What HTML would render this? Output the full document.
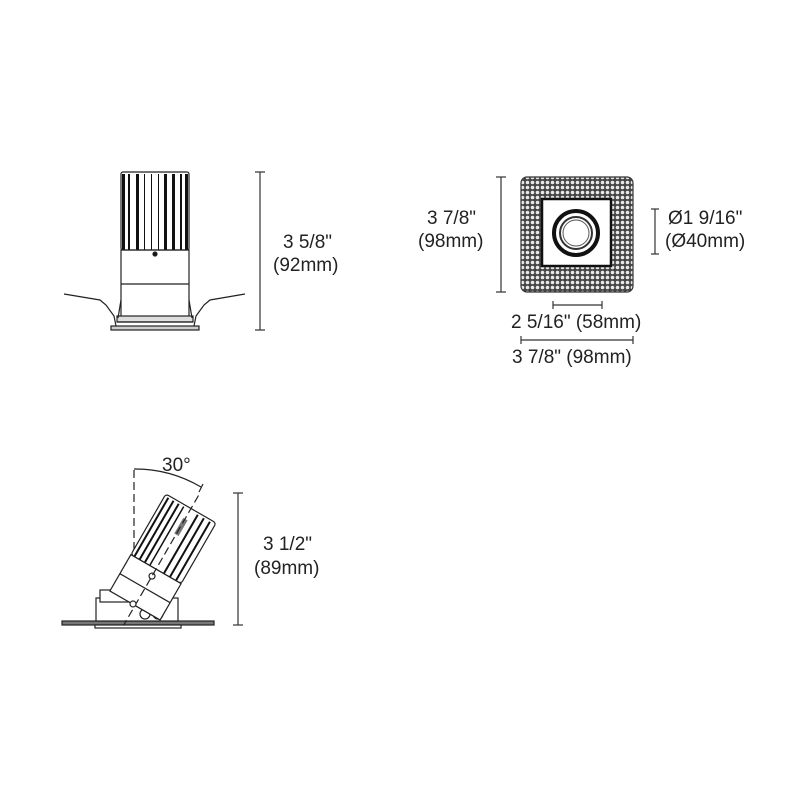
<!DOCTYPE html>
<html><head><style>
body{margin:0;background:#fff}
svg{display:block}
text{font-family:"Liberation Sans",Arial,sans-serif;font-size:19px;fill:#222}
</style></head><body>
<svg width="800" height="800" viewBox="0 0 800 800" xmlns="http://www.w3.org/2000/svg">
<defs>
<pattern id="dots" width="5" height="5" patternUnits="userSpaceOnUse">
<rect width="5" height="5" fill="#444"/><circle cx="2.5" cy="2.5" r="1.8" fill="#e8e8e8"/>
</pattern>
</defs>
<!-- top-left fixture -->
<g stroke="#222" fill="none" stroke-width="1.2">
<rect x="121" y="172" width="68" height="78" rx="2" fill="#fff"/>
<g fill="#111" stroke="none">
<rect x="122" y="174" width="3" height="76"/><rect x="128" y="174" width="2" height="76"/>
<rect x="136" y="174" width="3" height="76"/><rect x="144" y="174" width="1" height="76"/>
<rect x="151" y="174" width="1" height="76"/><rect x="158" y="174" width="1" height="76"/>
<rect x="164" y="174" width="3" height="76"/>
<rect x="172" y="174" width="3" height="76"/><rect x="180" y="174" width="2" height="76"/><rect x="185" y="174" width="3" height="76"/>
</g>
<rect x="121" y="250" width="68" height="70"/>
<line x1="121" y1="284" x2="189" y2="284"/>
<circle cx="155" cy="254" r="2" fill="#111"/>
<rect x="117" y="316" width="76" height="6" fill="#ddd"/>
<rect x="111" y="326" width="88" height="4" fill="#ccc"/>
<line x1="117" y1="322" x2="193" y2="322"/>
<polyline points="64,294 100,300 106,305 114,316 116,326"/>
<polyline points="245,294 210,300 204,305 196,316 194,326"/>
<line x1="121" y1="300" x2="118" y2="318"/><line x1="189" y1="300" x2="192" y2="318"/>
</g>
<g stroke="#333" stroke-width="1.2">
<line x1="260" y1="172" x2="260" y2="330"/><line x1="255" y1="172" x2="265" y2="172"/><line x1="255" y1="330" x2="265" y2="330"/>
</g>
<text x="283" y="248">3 5/8"</text><text x="273" y="271">(92mm)</text>
<!-- top-right -->
<rect x="521" y="177" width="112" height="115" rx="6" fill="url(#dots)" stroke="#333" stroke-width="1.2"/>
<rect x="542" y="199" width="69" height="67" fill="#fff" stroke="#111" stroke-width="2.5"/>
<circle cx="576" cy="233" r="22" fill="#fff" stroke="#111" stroke-width="4"/>
<circle cx="576" cy="233" r="16" fill="#fff" stroke="#333" stroke-width="2"/>
<circle cx="576" cy="233" r="13" fill="#fff" stroke="#555" stroke-width="1"/>
<g stroke="#333" stroke-width="1.2">
<line x1="501" y1="177" x2="501" y2="292"/><line x1="496" y1="177" x2="506" y2="177"/><line x1="496" y1="292" x2="506" y2="292"/>
<line x1="655" y1="209" x2="655" y2="254"/><line x1="651" y1="209" x2="659" y2="209"/><line x1="651" y1="254" x2="659" y2="254"/>
<line x1="553" y1="305" x2="602" y2="305"/><line x1="553" y1="301" x2="553" y2="309"/><line x1="602" y1="301" x2="602" y2="309"/>
<line x1="521" y1="340" x2="633" y2="340"/><line x1="521" y1="336" x2="521" y2="344"/><line x1="633" y1="336" x2="633" y2="344"/>
</g>
<text x="427" y="224">3  7/8"</text><text x="418" y="247">(98mm)</text>
<text x="668" y="224">Ø1 9/16"</text><text x="665" y="247">(Ø40mm)</text>
<text x="511" y="328">2  5/16" (58mm)</text>
<text x="512" y="363">3  7/8" (98mm)</text>
<!-- tilted fixture -->
<g stroke="#222" fill="none" stroke-width="1.2">
<line x1="134" y1="470" x2="134" y2="600" stroke-dasharray="8,4"/>
<path d="M134,469 A130,130 0 0 1 201,487"/>
<line x1="203" y1="484" x2="199" y2="492"/>
<rect x="62" y="621" width="152" height="4" fill="#777"/>
<rect x="95" y="625" width="86" height="3" fill="#fff"/>
<rect x="96" y="598" width="82" height="23" fill="#fff"/>
<rect x="100" y="590" width="30" height="12" fill="#fff"/>
<circle cx="145" cy="614" r="5" fill="#fff"/><circle cx="158" cy="614" r="5" fill="#fff"/>
<g transform="translate(191,508.5) rotate(30)">
<rect x="-29" y="0" width="58" height="70" rx="3" fill="#fff"/>
<g fill="#111" stroke="none">
<rect x="-26" y="2" width="2" height="68"/><rect x="-20" y="2" width="2" height="68"/>
<rect x="-14" y="2" width="2" height="68"/><rect x="-8" y="2" width="1.5" height="68"/>
<rect x="8" y="2" width="2" height="68"/><rect x="15" y="2" width="2" height="68"/><rect x="22" y="2" width="2" height="68"/>
<rect x="-2" y="12" width="5" height="18" fill="#777"/>
</g>
<rect x="-29" y="70" width="58" height="42" fill="#fff"/>
<line x1="-29" y1="92" x2="29" y2="92"/>
<circle cx="0" cy="78" r="3"/>
<line x1="0" y1="-15" x2="0" y2="135" stroke-dasharray="8,4"/>
</g>
<circle cx="133" cy="604" r="3" fill="#fff"/>
</g>
<g stroke="#333" stroke-width="1.2">
<line x1="238" y1="493" x2="238" y2="625"/><line x1="233" y1="493" x2="243" y2="493"/><line x1="233" y1="625" x2="243" y2="625"/>
</g>
<text x="162" y="471">30°</text>
<text x="263" y="550">3 1/2"</text><text x="254" y="574">(89mm)</text>
</svg>
</body></html>
